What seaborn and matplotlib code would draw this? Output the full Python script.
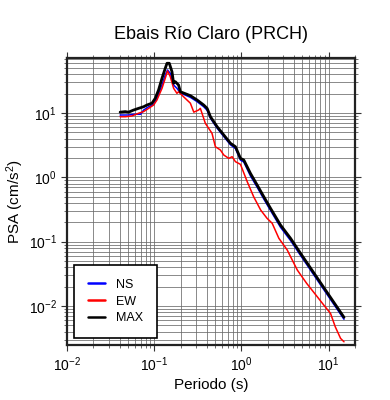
import numpy as np
import pandas as pd
import matplotlib
matplotlib.use("Agg")
import matplotlib.pyplot as plt
import seaborn as sns
from matplotlib.ticker import LogLocator, NullFormatter

# periods (s) and pseudo-spectral acceleration (cm/s^2)
t_ns = [0.0406, 0.0507, 0.0578, 0.0697, 0.0754, 0.0861, 0.0983, 0.1073, 0.1227, 0.1337,
        0.142, 0.1526, 0.1667, 0.182, 0.199, 0.2594, 0.310, 0.369, 0.404, 0.4406,
        0.526, 0.627, 0.748, 0.853, 0.974, 1.063, 1.268, 1.514, 1.803, 2.153,
        2.805, 3.655, 4.76, 8.09, 15.0]
psa_ns = [9.3, 9.3, 9.55, 9.55, 11.1, 12.5, 13.6, 16.9, 27.2, 39.0,
          46.7, 41.4, 27.2, 24.2, 20.5, 17.5, 15.0, 12.5, 11.0, 8.3,
          5.8, 4.3, 3.2, 2.8, 1.85, 1.73, 1.05, 0.70, 0.46, 0.305,
          0.167, 0.104, 0.061, 0.0212, 0.0062]

t_ew = [0.0406, 0.0465, 0.0553, 0.0660, 0.0754, 0.0861, 0.0983, 0.1073, 0.1227, 0.1337,
        0.142, 0.1526, 0.1667, 0.182, 0.190, 0.2165, 0.2594, 0.284, 0.322, 0.3376,
        0.385, 0.4205, 0.4595, 0.502, 0.573, 0.627, 0.715, 0.781, 0.853, 0.974,
        1.164, 1.38, 1.66, 1.967, 2.25, 2.686, 3.35, 4.37, 5.6, 7.4,
        8.8, 10.5, 11.9, 13.7, 15.0]
psa_ew = [8.75, 8.75, 8.98, 9.9, 10.5, 11.8, 13.3, 15.9, 24.2, 34.7,
          45.0, 36.7, 24.2, 20.2, 21.4, 17.9, 14.2, 10.3, 11.1, 11.8,
          6.92, 5.78, 4.83, 2.99, 2.66, 2.22, 1.97, 2.09, 1.75, 1.59,
          0.855, 0.499, 0.310, 0.230, 0.193, 0.1125, 0.074, 0.0361, 0.0224, 0.0139,
          0.0103, 0.00767, 0.00475, 0.00313, 0.00277]

t_max = [0.0406, 0.0465, 0.0507, 0.0578, 0.0660, 0.0754, 0.0824, 0.0941, 0.1026, 0.112,
         0.1227, 0.1337, 0.140, 0.1487, 0.1596, 0.1667, 0.1742, 0.190, 0.199, 0.2594,
         0.310, 0.369, 0.404, 0.4406, 0.526, 0.627, 0.748, 0.853, 0.974, 1.063,
         1.268, 1.514, 1.803, 2.153, 2.805, 3.655, 4.76, 8.09, 15.0]
psa_max = [10.3, 10.5, 10.3, 11.1, 11.8, 12.5, 13.3, 14.2, 16.9, 22.8,
           34.7, 49.6, 59.3, 59.3, 43.9, 29.0, 30.7, 27.2, 21.4, 18.6,
           15.9, 13.3, 11.8, 8.75, 6.12, 4.55, 3.38, 2.99, 1.97, 1.86,
           1.15, 0.758, 0.499, 0.330, 0.181, 0.1125, 0.0657, 0.0228, 0.00665]

series = [("NS", t_ns, psa_ns, "#0000ff", 1.1),
          ("EW", t_ew, psa_ew, "#ff0000", 1.1),
          ("MAX", t_max, psa_max, "black", 2.0)]

sns.set_style("ticks")
plt.rcParams['font.family'] = ['Liberation Sans', 'DejaVu Sans']
plt.rcParams['mathtext.default'] = 'regular'
plt.rcParams['text.color'] = 'black'
plt.rcParams['axes.labelcolor'] = 'black'
plt.rcParams['xtick.color'] = 'black'
plt.rcParams['ytick.color'] = 'black'

fig = plt.figure(figsize=(3.9, 4.0), dpi=100)
ax = fig.add_axes([0.172, 0.1375, 0.738, 0.7175])

for name, t, p, c, lw in series:
    df = pd.DataFrame({'T': t, 'PSA': p})
    sns.lineplot(data=df, x='T', y='PSA', color=c, linewidth=lw, label=name,
                 estimator=None, sort=False, ax=ax)

ax.set_xscale('log')
ax.set_yscale('log')
ax.set_xlim(0.01, 20)
ax.set_ylim(0.00247, 71.6)

ax.xaxis.set_major_locator(LogLocator(base=10, numticks=10))
ax.xaxis.set_minor_locator(LogLocator(base=10, subs=np.arange(2, 10), numticks=20))
ax.yaxis.set_major_locator(LogLocator(base=10, numticks=10))
ax.yaxis.set_minor_locator(LogLocator(base=10, subs=np.arange(2, 10), numticks=20))
ax.xaxis.set_minor_formatter(NullFormatter())
ax.yaxis.set_minor_formatter(NullFormatter())

ax.grid(True, which='both', color='#6a6a6a', linewidth=0.55)
ax.tick_params(which='both', direction='out', top=True, right=True, labelsize=10)
ax.tick_params(which='major', length=4, width=0.8, color='#333333')
ax.tick_params(which='minor', length=2.5, width=0.6, color='#555555')
for s in ax.spines.values():
    s.set_linewidth(1.6)
    s.set_color('#222222')

ax.set_xlabel('Periodo (s)', fontsize=11, labelpad=3)
ax.set_ylabel('PSA (cm/s$^2$)', fontsize=11, labelpad=2)
ax.set_title('Ebais Río Claro (PRCH)', fontsize=13, pad=14)

leg = ax.legend(loc='lower left', bbox_to_anchor=(0.024, 0.024), borderaxespad=0,
                fontsize=9, frameon=True, fancybox=False, framealpha=1,
                edgecolor='black', borderpad=1.1, labelspacing=0.38,
                handlelength=1.4, handletextpad=0.9)
leg.get_frame().set_linewidth(1.2)
for line in leg.get_lines():
    line.set_linewidth(1.8)

fig.savefig('out.png', dpi=100)
